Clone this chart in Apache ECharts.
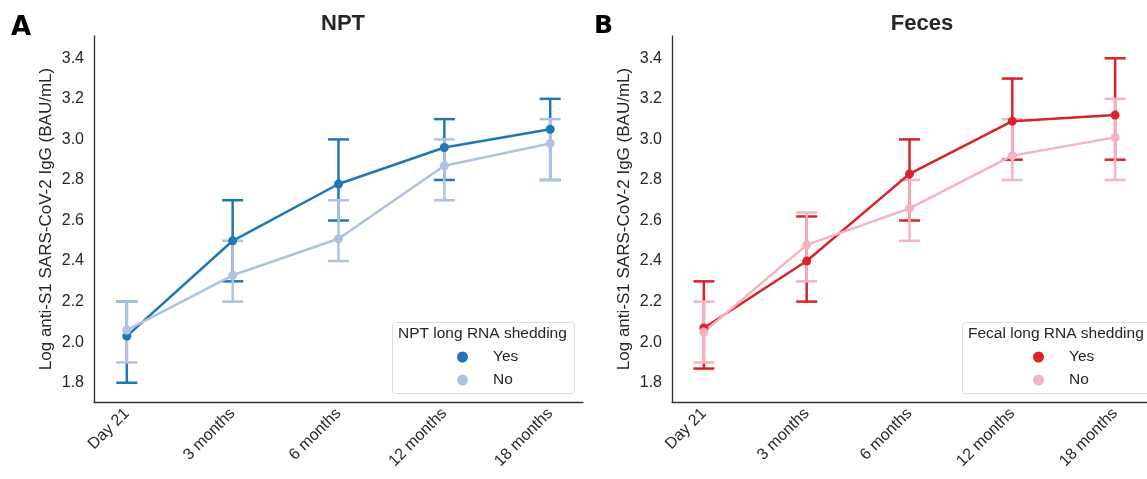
<!DOCTYPE html>
<html>
<head>
<meta charset="utf-8">
<script src="https://cdn.jsdelivr.net/npm/echarts@6/dist/echarts.min.js"></script>
<style>
  html, body { margin: 0; padding: 0; background: #fff; }
  #chart { width: 1147px; height: 479px; }
</style>
</head>
<body>
<div id="chart"></div>
<script>
// categories (time points)
var timePoints = ['Day 21', '3 months', '6 months', '12 months', '18 months'];
var yTicks = [1.8, 2.0, 2.2, 2.4, 2.6, 2.8, 3.0, 3.2, 3.4];

// NPT panel
var nptYesMean = [2.03, 2.50, 2.78, 2.96, 3.05];
var nptYesLow  = [1.80, 2.30, 2.60, 2.80, 2.80];
var nptYesHigh = [2.20, 2.70, 3.00, 3.10, 3.20];
var nptNoMean  = [2.06, 2.33, 2.51, 2.87, 2.98];
var nptNoLow   = [1.90, 2.20, 2.40, 2.70, 2.80];
var nptNoHigh  = [2.20, 2.50, 2.70, 3.00, 3.10];

// Feces panel
var fecYesMean = [2.07, 2.40, 2.83, 3.09, 3.12];
var fecYesLow  = [1.87, 2.20, 2.60, 2.90, 2.90];
var fecYesHigh = [2.30, 2.62, 3.00, 3.30, 3.40];
var fecNoMean  = [2.05, 2.48, 2.66, 2.92, 3.01];
var fecNoLow   = [1.90, 2.30, 2.50, 2.80, 2.80];
var fecNoHigh  = [2.20, 2.64, 2.80, 3.10, 3.20];

var colors = {
  nptYes: '#1f77b4', nptNo: '#adc3e0',
  fecYes: '#d9222a', fecNo: '#f5b2c1'
};
var textColor = '#262626';
var font = 'Liberation Sans, Arial, sans-serif';

var myChart = echarts.init(document.getElementById('chart'));

// error bars drawn as custom series
function errorSeries(name, low, high, color, idx) {
  return {
    type: 'custom',
    name: name + ' err',
    xAxisIndex: idx, yAxisIndex: idx,
    silent: true,
    renderItem: function (params, api) {
      var x = api.value(0);
      var pLo = api.coord([x, api.value(1)]);
      var pHi = api.coord([x, api.value(2)]);
      var w = 10.5;
      var style = { stroke: color, lineWidth: 2.5 };
      return {
        type: 'group',
        children: [
          { type: 'line', shape: { x1: pLo[0], y1: pLo[1], x2: pHi[0], y2: pHi[1] }, style: style },
          { type: 'line', shape: { x1: pHi[0] - w, y1: pHi[1], x2: pHi[0] + w, y2: pHi[1] }, style: style },
          { type: 'line', shape: { x1: pLo[0] - w, y1: pLo[1], x2: pLo[0] + w, y2: pLo[1] }, style: style }
        ]
      };
    },
    encode: { x: 0, y: [1, 2] },
    data: low.map(function (v, i) { return [i, v, high[i]]; }),
    z: 2
  };
}

function lineSeries(name, mean, color, idx) {
  return {
    type: 'line',
    name: name,
    xAxisIndex: idx, yAxisIndex: idx,
    symbol: 'circle',
    symbolSize: 9,
    lineStyle: { color: color, width: 2.5 },
    itemStyle: { color: color },
    data: mean.map(function (v, i) { return [i, v]; }),
    z: 2
  };
}

function xAxis(idx) {
  return {
    type: 'value', gridIndex: idx,
    min: -0.31, max: 4.31,
    axisLine: { onZero: false, lineStyle: { color: '#333', width: 1.3 } },
    axisTick: { show: false },
    splitLine: { show: false },
    axisLabel: {
      customValues: [0, 1, 2, 3, 4],
      rotate: 45, margin: 9,
      color: textColor, fontSize: 16, fontFamily: font,
      formatter: function (v) { return timePoints[Math.round(v)]; }
    }
  };
}

function yAxis(idx) {
  return {
    type: 'value', gridIndex: idx,
    min: 1.705, max: 3.51,
    name: 'Log anti-S1 SARS-CoV-2 IgG (BAU/mL)',
    nameLocation: 'middle', nameGap: 39,
    nameTextStyle: { color: textColor, fontSize: 17, fontFamily: font },
    axisLine: { show: true, onZero: false, lineStyle: { color: '#333', width: 1.3 } },
    axisTick: { show: false },
    splitLine: { show: false },
    axisLabel: {
      customValues: yTicks, margin: 10,
      color: textColor, fontSize: 16, fontFamily: font,
      formatter: function (v) { return v.toFixed(1); }
    }
  };
}

function legendBox(x, y, w, h, title) {
  return [
    { type: 'rect', left: x, top: y, shape: { width: w, height: h, r: 3 },
      style: { fill: '#fff', stroke: '#dcdcdc', lineWidth: 1 }, z: 10 },
    { type: 'text', left: x + 6, top: y + 4,
      style: { text: title, fill: textColor, font: '15.5px ' + font }, z: 11 }
  ];
}

function legend(left, names) {
  return {
    data: names,
    left: left, top: 348,
    orient: 'vertical',
    icon: 'circle',
    itemWidth: 11, itemHeight: 11, itemGap: 5,
    padding: 0,
    selectedMode: false,
    formatter: function (n) { return n.split(' ')[1]; },
    textStyle: { color: textColor, fontSize: 15.5, fontFamily: font, lineHeight: 18, padding: [0, 0, 0, 20] },
    z: 12
  };
}

var options = {
  animation: false,
  textStyle: { fontFamily: font },
  title: [
    { text: 'NPT', left: 338, top: 8, textAlign: 'center',
      textStyle: { fontSize: 22, fontWeight: 'bold', color: textColor, fontFamily: font } },
    { text: 'Feces', left: 917, top: 8, textAlign: 'center',
      textStyle: { fontSize: 22, fontWeight: 'bold', color: textColor, fontFamily: font } }
  ],
  grid: [
    { left: 94, top: 36, width: 489, height: 366 },
    { left: 672, top: 36, width: 489, height: 366 }
  ],
  xAxis: [xAxis(0), xAxis(1)],
  yAxis: [yAxis(0), yAxis(1)],
  legend: [
    legend(457, ['NPT Yes', 'NPT No']),
    legend(1033, ['Fecal Yes', 'Fecal No'])
  ],
  graphic: [
    { type: 'text', left: 11, top: 15,
      style: { text: 'A', fill: '#000', font: 'bold 26px "DejaVu Sans", sans-serif' } },
    { type: 'text', left: 594, top: 14,
      style: { text: 'B', fill: '#000', font: 'bold 25px "DejaVu Sans", sans-serif' } }
  ].concat(legendBox(392, 322, 182, 71, 'NPT long RNA shedding'))
   .concat(legendBox(962, 322, 200, 71, 'Fecal long RNA shedding')),
  series: [
    errorSeries('NPT Yes', nptYesLow, nptYesHigh, colors.nptYes, 0),
    lineSeries('NPT Yes', nptYesMean, colors.nptYes, 0),
    errorSeries('NPT No', nptNoLow, nptNoHigh, colors.nptNo, 0),
    lineSeries('NPT No', nptNoMean, colors.nptNo, 0),
    errorSeries('Fecal Yes', fecYesLow, fecYesHigh, colors.fecYes, 1),
    lineSeries('Fecal Yes', fecYesMean, colors.fecYes, 1),
    errorSeries('Fecal No', fecNoLow, fecNoHigh, colors.fecNo, 1),
    lineSeries('Fecal No', fecNoMean, colors.fecNo, 1)
  ]
};

myChart.setOption(options);
</script>
</body>
</html>
